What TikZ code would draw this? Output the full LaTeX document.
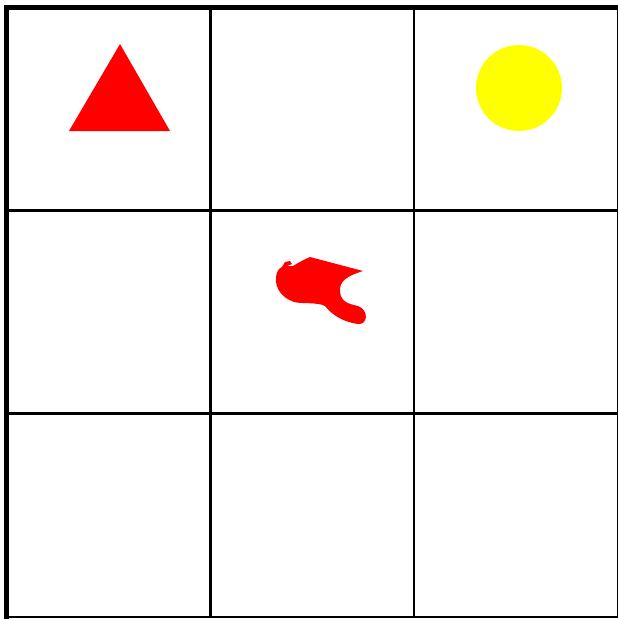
\documentclass[tikz,border=0pt]{standalone}
\usepackage{xcolor}
\usepackage{tikz}
\usetikzlibrary{shapes.geometric, calc}
\definecolor{shapered}{RGB}{255,0,0}
\definecolor{sunyellow}{RGB}{255,255,0}
\tikzset{
  gridcell/.style={
    draw, line width=2pt, minimum width=204pt, minimum height=204pt,
    inner sep=0pt, outer sep=0pt
  },
  gridborder/.style={
    line width=5pt, line cap=rect
  },
  redshape/.style={
    fill=shapered, draw=none
  },
  yellowdot/.style={
    circle, fill=sunyellow, draw=none, minimum size=86pt, inner sep=0pt
  },
}

\begin{document}
\begin{tikzpicture}[x=1pt, y=-1pt]
  \useasboundingbox (0,0) rectangle (618,619);
  % Grid of cells
  \foreach \row in {0,1,2} {
    \foreach \col in {0,1,2} {
      \node[gridcell] (cell-\row-\col) at ({108.5+203.5*\col},{109+203*\row}) {};
    }
  }
  % Thick top and left border
  \draw[gridborder] (cell-2-0.south west) -- (cell-0-0.north west) -- (cell-0-2.north east);
  % Red triangle
  \fill[redshape] (120,44) -- (170,131) -- (69,131) -- cycle;
  % Yellow circle
  \node[yellowdot] (sun) at (519,88) {};
  % Red blob
  \fill[redshape] (310,257) -- (363,271)
    .. controls (347,276) and (339,281) .. (340,292)
    .. controls (341,302) and (349,304) .. (358,306)
    .. controls (369,310) and (368,325) .. (358,324)
    .. controls (344,322) and (333,316) .. (325,306)
    .. controls (318,302) and (301,304) .. (294,302)
    .. controls (282,298) and (275,288) .. (276,278)
    .. controls (276,272) and (279,268) .. (282,267)
    -- (285,262) -- (290,261) -- (292,264) -- (287,266) -- (293,266)
    .. controls (298,263) and (303,260) .. (310,257) -- cycle;
\end{tikzpicture}
\end{document}
